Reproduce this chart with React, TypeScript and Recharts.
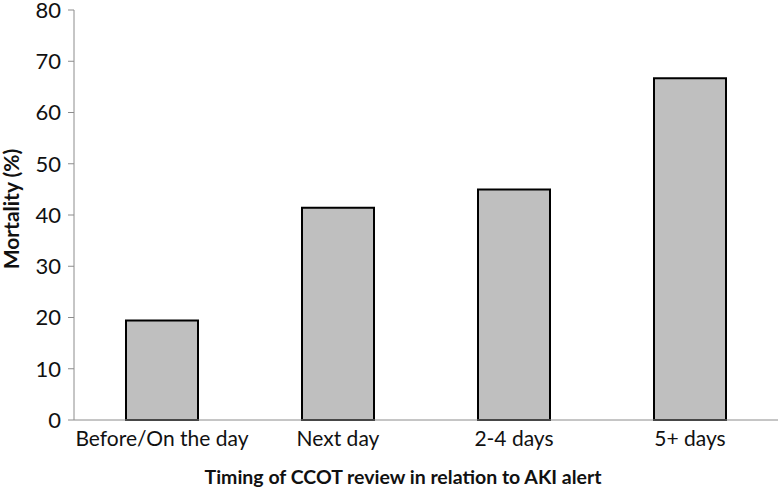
import { BarChart, Bar, XAxis, YAxis } from 'recharts';

const categories = ['Before/On the day', 'Next day', '2-4 days', '5+ days'];
const mortality = [19.4, 41.4, 45.0, 66.7];
const yTicks = [0, 10, 20, 30, 40, 50, 60, 70, 80];

const data = categories.map((name, i) => ({ name, value: mortality[i] }));

const FONT = 'Lato, "Open Sans", sans-serif';

const App: React.FC = () => {
  return (
    <div style={{ position: 'absolute', top: 0, left: 0, background: '#fff', fontFamily: FONT }}>
      <BarChart
        width={780}
        height={493}
        data={data}
        margin={{ top: 10, right: 2, bottom: 0, left: 0 }}
        barCategoryGap="0%"
      >
        <XAxis
          dataKey="name"
          height={73}
          tickLine={false}
          tickSize={0}
          tickMargin={11}
          stroke="#8c8c8c"
          tick={{ fill: '#111', fontSize: 21, fontFamily: FONT }}
          label={{
            value: 'Timing of CCOT review in relation to AKI alert',
            position: 'insideBottom',
            offset: 9,
            dx: -23,
            style: { fill: '#111', fontSize: 19.5, fontWeight: 700, fontFamily: FONT },
          }}
        />
        <YAxis
          width={74}
          domain={[0, 80]}
          ticks={yTicks}
          interval={0}
          tickSize={6}
          tickMargin={7}
          stroke="#8c8c8c"
          tick={{ fill: '#111', fontSize: 22, fontFamily: FONT }}
          label={{
            value: 'Mortality (%)',
            angle: -90,
            position: 'insideLeft',
            offset: 12,
            dy: -6,
            style: { textAnchor: 'middle', fill: '#111', fontSize: 21, fontWeight: 700, fontFamily: FONT },
          }}
        />
        <Bar
          dataKey="value"
          barSize={72}
          fill="#bfbfbf"
          stroke="#000"
          strokeWidth={2}
          isAnimationActive={false}
        />
      </BarChart>
    </div>
  );
};

export default App;
